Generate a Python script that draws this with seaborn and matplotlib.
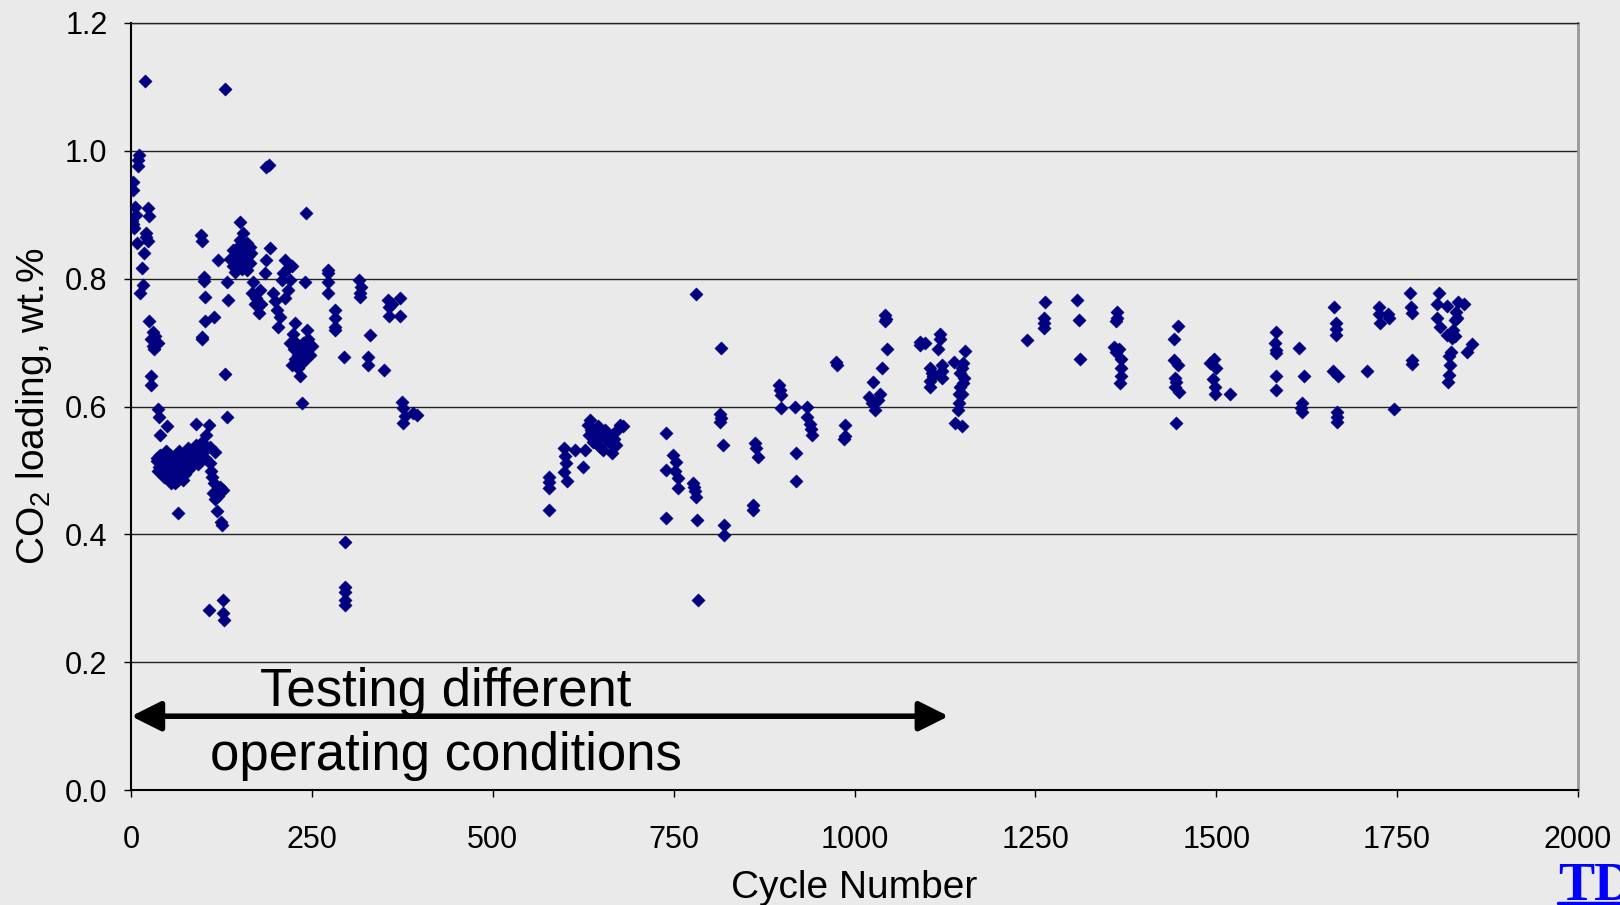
import numpy as np
import pandas as pd
import matplotlib
matplotlib.use("Agg")
import matplotlib.pyplot as plt
import seaborn as sns

# 사이클별 CO2 흡착량
cycle_early = [2, 3, 5, 3, 4, 8, 1, 6, 11, 10, 9, 19, 23, 24, 21, 23, 18, 14.5, 16, 12, 20,
               25, 30.5, 28, 30, 33, 35, 32, 37, 28, 28, 37.5, 38, 49, 40,
               36, 38, 40, 42, 44, 46, 48, 50, 52, 54, 56, 58, 60, 62, 64, 66, 68, 70, 72, 74,
               76, 78, 80, 82, 84, 86, 88, 90, 92, 94, 96, 98, 100, 102, 45, 55, 65, 75, 35, 37, 60,
               109, 110, 112, 115, 118, 113, 120, 116, 123, 127, 118, 124, 125, 65,
               90, 108, 103, 97, 109, 116,
               96, 97.5, 120, 100, 100, 132, 102, 134, 114.5, 102, 97.5, 97.5, 129, 133, 130,
               107, 127, 127, 128]
load_early = [0.951, 0.938, 0.912, 0.886, 0.879, 0.855, 0.89, 0.90, 0.993, 0.976, 0.985, 1.109, 0.911, 0.898,
              0.871, 0.858, 0.84, 0.816, 0.79, 0.777, 0.865,
              0.733, 0.717, 0.705, 0.695, 0.71, 0.70, 0.69, 0.70, 0.647, 0.634, 0.596, 0.584, 0.57, 0.556,
              0.515, 0.505, 0.525, 0.50, 0.52, 0.51, 0.53, 0.495, 0.515, 0.525, 0.505, 0.49, 0.52, 0.51,
              0.50, 0.53, 0.515, 0.50, 0.485, 0.52, 0.51, 0.535, 0.525, 0.505, 0.515, 0.53, 0.52, 0.54,
              0.51, 0.525, 0.535, 0.545, 0.53, 0.52, 0.49, 0.48, 0.485, 0.495, 0.52, 0.50, 0.48,
              0.511, 0.50, 0.49, 0.48, 0.47, 0.465, 0.46, 0.455, 0.475, 0.47, 0.436, 0.42, 0.415, 0.433,
              0.573, 0.571, 0.556, 0.54, 0.537, 0.529,
              0.868, 0.858, 0.829, 0.803, 0.796, 0.795, 0.771, 0.767, 0.74, 0.733, 0.709, 0.705, 0.651,
              0.584, 1.097,
              0.282, 0.298, 0.277, 0.266]

cycle_mid_early = [137, 141, 141, 145, 148, 150, 150, 152, 155, 151, 155, 157, 158, 160, 162, 164, 164, 166,
                   143, 153, 160, 169, 167, 178, 171, 176, 173, 185, 187, 192, 190, 187, 196, 201, 203,
                   199, 205, 180, 213, 217, 210, 220, 217, 208, 222, 240, 224, 243, 241, 227, 212,
                   220, 225, 228, 230, 232, 235, 238, 240, 243, 245, 247, 222, 233, 236, 230, 238, 226, 250,
                   272, 272, 272, 272, 282, 282, 282, 282, 294, 295, 296, 296, 296, 296,
                   315, 316, 316, 317, 330, 328, 328, 349, 355, 357, 357, 372, 372, 360,
                   374, 376, 378, 376, 390, 395]
load_mid_early = [0.83, 0.82, 0.845, 0.835, 0.85, 0.86, 0.825, 0.84, 0.871, 0.888, 0.83, 0.845, 0.82, 0.855,
                  0.835, 0.825, 0.85, 0.84, 0.81, 0.815, 0.813, 0.795, 0.777, 0.782, 0.761, 0.746, 0.77,
                  0.808, 0.829, 0.848, 0.978, 0.975, 0.777, 0.751, 0.725, 0.765, 0.74, 0.76, 0.829, 0.816,
                  0.808, 0.798, 0.782, 0.798, 0.82, 0.794, 0.714, 0.72, 0.903, 0.73, 0.77,
                  0.70, 0.69, 0.70, 0.68, 0.695, 0.685, 0.70, 0.675, 0.69, 0.705, 0.68, 0.665, 0.648,
                  0.605, 0.66, 0.67, 0.675, 0.695,
                  0.813, 0.808, 0.795, 0.777, 0.751, 0.738, 0.725, 0.72, 0.677, 0.389, 0.318, 0.31, 0.297, 0.29,
                  0.798, 0.777, 0.771, 0.787, 0.712, 0.678, 0.665, 0.657, 0.767, 0.755, 0.742, 0.769, 0.742,
                  0.76, 0.607, 0.598, 0.585, 0.574, 0.59, 0.587]

cycle_mid = [577, 577, 578, 577, 598, 600, 601, 598, 603, 625, 614, 628, 634, 631, 636, 640, 645, 643, 648,
             655, 657, 652, 665, 668, 672, 676, 680, 662, 638, 650, 660, 645, 670, 642, 633,
             740, 749, 753, 740, 752, 756, 756, 777, 778, 781, 739, 782, 781, 784, 779,
             816, 814, 814, 815, 818, 820, 820, 862, 866, 859, 860, 864,
             895, 897, 898, 899, 918, 919, 919, 934, 934, 938, 940, 941, 974, 976, 987, 987, 986,
             1026, 1020, 1024, 1028, 1035, 1032, 1038, 1045, 1042, 1044, 1042,
             1090, 1090, 1097, 1118, 1118, 1116, 1105, 1107, 1105, 1105, 1109, 1121, 1121, 1121, 1137,
             1153, 1150, 1148, 1146, 1152, 1150, 1146, 1145, 1149, 1144, 1139, 1148, 1143]
load_mid = [0.49, 0.482, 0.472, 0.439, 0.535, 0.522, 0.512, 0.498, 0.484, 0.506, 0.532, 0.532, 0.579,
            0.571, 0.563, 0.556, 0.55, 0.543, 0.537, 0.563, 0.55, 0.532, 0.527, 0.55, 0.563, 0.571, 0.569,
            0.543, 0.545, 0.56, 0.555, 0.57, 0.54, 0.55, 0.555,
            0.558, 0.525, 0.513, 0.501, 0.50, 0.488, 0.472, 0.48, 0.474, 0.459, 0.425, 0.422, 0.776, 0.297, 0.468,
            0.691, 0.588, 0.576, 0.582, 0.54, 0.415, 0.399, 0.543, 0.521, 0.446, 0.439, 0.535,
            0.634, 0.626, 0.618, 0.597, 0.599, 0.527, 0.484, 0.599, 0.584, 0.572, 0.565, 0.556, 0.67, 0.665,
            0.571, 0.554, 0.549,
            0.639, 0.615, 0.605, 0.595, 0.62, 0.61, 0.66, 0.69, 0.743, 0.737, 0.733,
            0.701, 0.696, 0.699, 0.714, 0.706, 0.69, 0.66, 0.652, 0.64, 0.63, 0.648, 0.665, 0.655, 0.645, 0.67,
            0.687, 0.668, 0.66, 0.652, 0.645, 0.636, 0.63, 0.62, 0.62, 0.605, 0.574, 0.569, 0.595]

cycle_late = [1239, 1263, 1262, 1262, 1262, 1308, 1310, 1311,
              1363, 1363, 1361, 1358, 1362, 1366, 1368, 1368, 1368, 1367,
              1447, 1442, 1441, 1447, 1443, 1444, 1443, 1449, 1445,
              1497, 1492, 1500, 1496, 1498, 1498, 1519,
              1582, 1581, 1582, 1583, 1583, 1583, 1614, 1621, 1618, 1617, 1618,
              1663, 1665, 1665, 1665, 1662, 1669, 1667, 1667, 1667,
              1709, 1725, 1725, 1737, 1739, 1727, 1746, 1768, 1769, 1770, 1770, 1771,
              1808, 1805, 1819, 1834, 1843, 1805, 1809, 1831, 1833, 1827, 1819, 1826, 1853, 1847,
              1825, 1822, 1823, 1822, 1821, 1830, 1830]
load_late = [0.704, 0.764, 0.738, 0.73, 0.722, 0.767, 0.736, 0.675,
             0.748, 0.738, 0.733, 0.693, 0.685, 0.69, 0.675, 0.66, 0.648, 0.636,
             0.726, 0.705, 0.673, 0.665, 0.645, 0.638, 0.63, 0.623, 0.574,
             0.675, 0.668, 0.66, 0.643, 0.63, 0.62, 0.619,
             0.717, 0.70, 0.688, 0.683, 0.648, 0.626, 0.691, 0.648, 0.605, 0.598, 0.592,
             0.756, 0.731, 0.721, 0.712, 0.655, 0.647, 0.592, 0.584, 0.576,
             0.656, 0.755, 0.745, 0.745, 0.738, 0.73, 0.596, 0.778, 0.756, 0.746, 0.673, 0.666,
             0.778, 0.761, 0.757, 0.764, 0.76, 0.738, 0.725, 0.748, 0.738, 0.72, 0.712, 0.707, 0.698,
             0.686, 0.686, 0.679, 0.665, 0.65, 0.638, 0.71, 0.735]

x_ticks = [0, 250, 500, 750, 1000, 1250, 1500, 1750, 2000]
y_ticks = [0.0, 0.2, 0.4, 0.6, 0.8, 1.0, 1.2]

# 주석 (화살표 구간, 글자 위치)
arrow_start, arrow_end, arrow_y = 0, 1130, 0.116
note_x = 435
note_lines = ["Testing different", "operating conditions"]
note_y = [0.132, 0.032]

df = pd.DataFrame({
    "cycle": cycle_early + cycle_mid_early + cycle_mid + cycle_late,
    "load": load_early + load_mid_early + load_mid + load_late,
})

BG = "#EAEAEA"
NAVY = "#000080"

sns.set_theme(style="white")
plt.rcParams["font.family"] = ["Liberation Sans", "DejaVu Sans"]

fig = plt.figure(figsize=(16.2, 9.05), dpi=100, facecolor=BG)
ax = fig.add_axes([0.081, 0.1266, 0.893, 0.8484])
ax.set_facecolor(BG)

sns.scatterplot(data=df, x="cycle", y="load", marker="D", s=46, color=NAVY,
                edgecolor=NAVY, linewidth=0.3, ax=ax, zorder=3, legend=False)

ax.set_xlim(0, 2000)
ax.set_ylim(0, 1.2)
ax.set_xticks(x_ticks)
ax.set_yticks(y_ticks)
ax.set_yticklabels([f"{v:.1f}" for v in y_ticks])
ax.yaxis.grid(True, color="#222222", lw=1.0, zorder=0)
ax.xaxis.grid(False)
ax.tick_params(axis="both", direction="out", length=5, width=1, color="black",
               labelsize=22, labelcolor="black")
ax.tick_params(axis="x", pad=20, bottom=True)
ax.tick_params(axis="y", pad=12, left=True)

for s in ["left", "bottom"]:
    ax.spines[s].set_color("black")
    ax.spines[s].set_linewidth(1.5)
ax.spines["right"].set_color("#999999")
ax.spines["right"].set_linewidth(2)
ax.spines["top"].set_color("#222222")
ax.spines["top"].set_linewidth(1.0)

ax.set_xlabel("Cycle Number", fontsize=28, color="black", labelpad=11)
ax.set_ylabel(r"CO$_\mathregular{2}$ loading, wt.%", fontsize=28, color="black", labelpad=8)

ax.annotate("", xy=(arrow_start, arrow_y), xytext=(arrow_end, arrow_y),
            arrowprops=dict(arrowstyle="<|-|>,head_length=0.9,head_width=0.45",
                            lw=4, color="black", shrinkA=0, shrinkB=0,
                            mutation_scale=20),
            annotation_clip=False, zorder=4)
for txt, yy in zip(note_lines, note_y):
    ax.text(note_x, yy, txt, fontsize=38, ha="center", va="baseline", color="black", zorder=5)

fig.text(0.962, 0.006, "TD", fontsize=39, fontweight="bold", color="#0000FF",
         family=["Liberation Serif", "DejaVu Serif"], ha="left", va="baseline")
fig.add_artist(plt.Line2D([0.962, 1.0], [0.002, 0.002], transform=fig.transFigure,
                          color="#0000FF", lw=2.5))

fig.savefig("out.png", dpi=100, facecolor=BG)
